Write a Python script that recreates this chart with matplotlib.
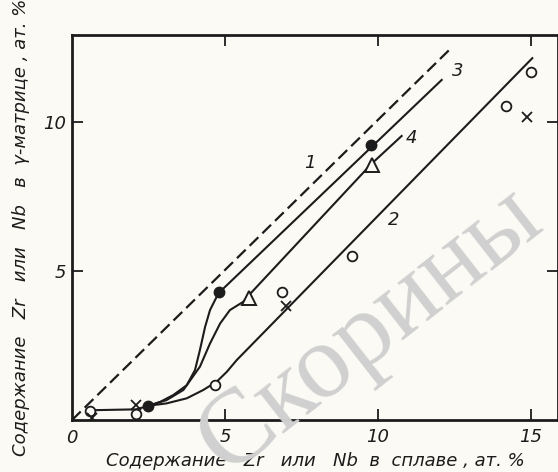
import matplotlib
matplotlib.use('Agg')
import matplotlib.pyplot as plt

# Данные (ат. %)
# линия 1 - штриховая
x1 = [0.0, 12.35]
y1 = [0.0, 12.44]

# общий начальный участок
x_base = [0.6, 2.1, 2.5]
y_base = [0.33, 0.36, 0.48]

# кривая 3 (залитые кружки)
x3 = [2.5, 2.88, 3.31, 3.75, 4.02, 4.18, 4.35, 4.51, 4.73, 4.81, 12.08]
y3 = [0.48, 0.61, 0.84, 1.17, 1.68, 2.35, 3.13, 3.69, 4.14, 4.28, 11.41]
pts3_x = [2.5, 4.81, 9.76]
pts3_y = [0.48, 4.28, 9.23]

# кривая 4 (треугольники)
x4 = [2.5, 3.09, 3.64, 4.18, 4.51, 4.84, 5.16, 5.6, 5.79, 9.79, 10.77]
y4 = [0.48, 0.67, 1.01, 1.79, 2.57, 3.24, 3.69, 3.97, 4.2, 8.6, 9.53]
pts4_x = [5.79, 9.79]
pts4_y = [4.1, 8.55]

# кривая 2 (светлые кружки, крестики)
x2 = [2.5, 3.09, 3.75, 4.29, 4.73, 5.06, 5.38, 15.04]
y2 = [0.48, 0.56, 0.73, 1.01, 1.29, 1.62, 2.01, 12.14]
open_x = [0.6, 2.09, 4.67, 6.85, 9.14, 14.18, 15.0]
open_y = [0.3, 0.2, 1.17, 4.31, 5.5, 10.55, 11.67]
cross_x = [0.64, 2.09, 6.99, 14.88]
cross_y = [0.07, 0.5, 3.83, 10.16]

labels = ['1', '2', '3', '4']
label_x = [7.78, 10.5, 12.6, 11.1]
label_y = [8.62, 6.7, 11.7, 9.45]

ink = '#1c1c1c'
paper = '#fbfaf4'

fig = plt.figure(figsize=(5.58, 4.72), dpi=100, facecolor=paper)
ax = fig.add_axes([0.129, 0.110, 0.871, 0.816], facecolor=paper)

# водяной знак
fig.text(0.665, 0.30, 'Скорины', fontsize=76, family='Liberation Serif',
         color='#d0d0d0', rotation=38, ha='center', va='center', zorder=0)

ax.plot(x1, y1, color=ink, lw=1.6, dashes=(5.5, 2.5))
ax.plot(x_base, y_base, color=ink, lw=1.5)
ax.plot(x3, y3, color=ink, lw=1.5)
ax.plot(x4, y4, color=ink, lw=1.5)
ax.plot(x2, y2, color=ink, lw=1.5)

ax.plot(pts3_x, pts3_y, 'o', color=ink, ms=7.5, mec=ink)
ax.plot(pts4_x, pts4_y, '^', ms=10, mfc=paper, mec=ink, mew=1.4)
ax.plot(open_x, open_y, 'o', ms=7, mfc=paper, mec=ink, mew=1.3)
ax.plot(cross_x, cross_y, 'x', ms=7, color=ink, mew=1.3)

for t, lx, ly in zip(labels, label_x, label_y):
    ax.text(lx, ly, t, fontsize=13, style='italic', color=ink,
            ha='center', va='center')

ax.set_xlim(0, 15.88)
ax.set_ylim(0, 12.92)
ax.set_xticks([5, 10, 15])
ax.set_yticks([5, 10])
ax.set_xticklabels(['5', '10', '15'], fontsize=13, style='italic', color=ink)
ax.set_yticklabels(['5', '10'], fontsize=13, style='italic', color=ink)
ax.text(0, -0.3, '0', fontsize=13, style='italic', color=ink,
        ha='center', va='top')
ax.tick_params(direction='in', length=8, width=1.3, color=ink,
               top=True, right=True)
ax.tick_params(axis='x', pad=6)
ax.tick_params(axis='y', pad=4)
for s in ax.spines.values():
    s.set_linewidth(2.0)
    s.set_color(ink)

ax.set_xlabel('Содержание   Zr   или   Nb  в  сплаве , ат. %',
              fontsize=13, style='italic', color=ink, labelpad=4)
ax.set_ylabel('Содержание   Zr   или   Nb   в  γ-матрице , ат. %',
              fontsize=13, style='italic', color=ink, labelpad=10)

fig.savefig('out.png', dpi=100, facecolor=paper)
